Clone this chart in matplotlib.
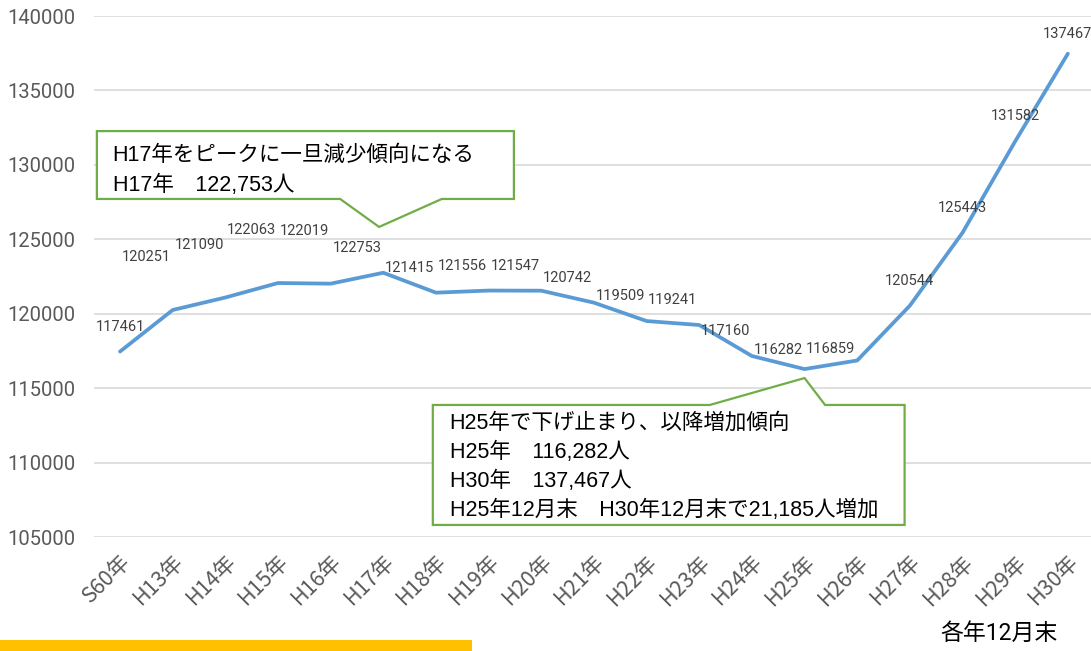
import matplotlib
matplotlib.use('Agg')
import matplotlib.pyplot as plt
from matplotlib.patches import Polygon, Rectangle

plt.rcParams['font.family'] = ['Roboto', 'Noto Sans CJK JP', 'DejaVu Sans']

# data
years = ['S60年', 'H13年', 'H14年', 'H15年', 'H16年', 'H17年', 'H18年', 'H19年', 'H20年',
         'H21年', 'H22年', 'H23年', 'H24年', 'H25年', 'H26年', 'H27年', 'H28年', 'H29年', 'H30年']
people = [117461, 120251, 121090, 122063, 122019, 122753, 121415, 121556, 121547,
          120742, 119509, 119241, 117160, 116282, 116859, 120544, 125443, 131582, 137467]
yticks = list(range(105000, 140001, 5000))

note1 = ['H17年をピークに一旦減少傾向になる', 'H17年　122,753人']
note2 = ['H25年で下げ止まり、以降増加傾向', 'H25年　116,282人', 'H30年　137,467人',
         'H25年12月末　H30年12月末で21,185人増加']

# label placement (category shift, points above) - mimics the original layout
lab_dx = [0] + [-0.5] * 14 + [0] * 4
lab_dy = [18, 38, 38, 38, 38, 18, 18, 18, 18, 18, 18, 18, 18, 14, 8, 18, 18, 18, 14]

fig = plt.figure(figsize=(10.91, 6.51), dpi=100)
ax = fig.add_axes([0.0859, 0.1751, 0.917, 0.8003])

x = list(range(len(years)))
ax.plot(x, people, color='#5b9bd5', lw=2.7, solid_capstyle='round', zorder=3)

for i, v in enumerate(people):
    ax.annotate(str(v), (i + lab_dx[i], v), xytext=(0, lab_dy[i]), textcoords='offset points',
                ha='center', va='center', fontsize=10.5, color='#404040', zorder=4,
                annotation_clip=False)

ax.set_xlim(-0.5, len(years) - 0.5)
ax.set_ylim(105000, 140000)
ax.set_yticks(yticks)
ax.set_yticklabels([str(t) for t in yticks], fontsize=14.5, color='#595959')
ax.set_xticks(x)
ax.set_xticklabels(years, rotation=45, ha='right', rotation_mode='anchor',
                   fontsize=15.5, color='#595959', family=['Noto Sans CJK JP'])
ax.tick_params(axis='both', length=0)
ax.tick_params(axis='y', pad=13)
ax.tick_params(axis='x', pad=10)
ax.grid(axis='y', color='#d9d9d9', lw=1.2)
ax.set_axisbelow(True)
for s in ax.spines.values():
    s.set_visible(False)

cjk = ['Liberation Sans', 'Noto Sans CJK JP']

# callout 1 (pointing down)
c1 = [(-0.44, 132270), (7.48, 132270), (7.48, 127710), (6.11, 127710),
      (4.92, 125830), (4.18, 127710), (-0.44, 127710)]
ax.add_patch(Polygon(c1, closed=True, fc='white', ec='#70ad47', lw=1.6, zorder=5, clip_on=False))
for k, t in enumerate(note1):
    ax.text(-0.14, 130660 - k * 2015, t, fontsize=15.5, color='black', va='center', ha='left',
            family=cjk, zorder=6)

# callout 2 (pointing up)
c2 = [(5.94, 113870), (11.20, 113870), (13.0, 115680), (13.39, 113870),
      (14.90, 113870), (14.90, 105810), (5.94, 105810)]
ax.add_patch(Polygon(c2, closed=True, fc='white', ec='#70ad47', lw=1.6, zorder=5, clip_on=False))
for k, t in enumerate(note2):
    ax.text(6.26, 112650 - k * 1950, t, fontsize=15.5, color='black', va='center', ha='left',
            family=cjk, zorder=6)

fig.text(0.9695, 0.027, '各年12月末', fontsize=16.5, color='black', ha='right', va='center',
         family=['Roboto', 'Noto Sans CJK JP'])
fig.patches.append(Rectangle((0, 0), 0.4326, 0.017, transform=fig.transFigure,
                             fc='#ffc000', ec='none'))

fig.savefig('out.png', dpi=100)
